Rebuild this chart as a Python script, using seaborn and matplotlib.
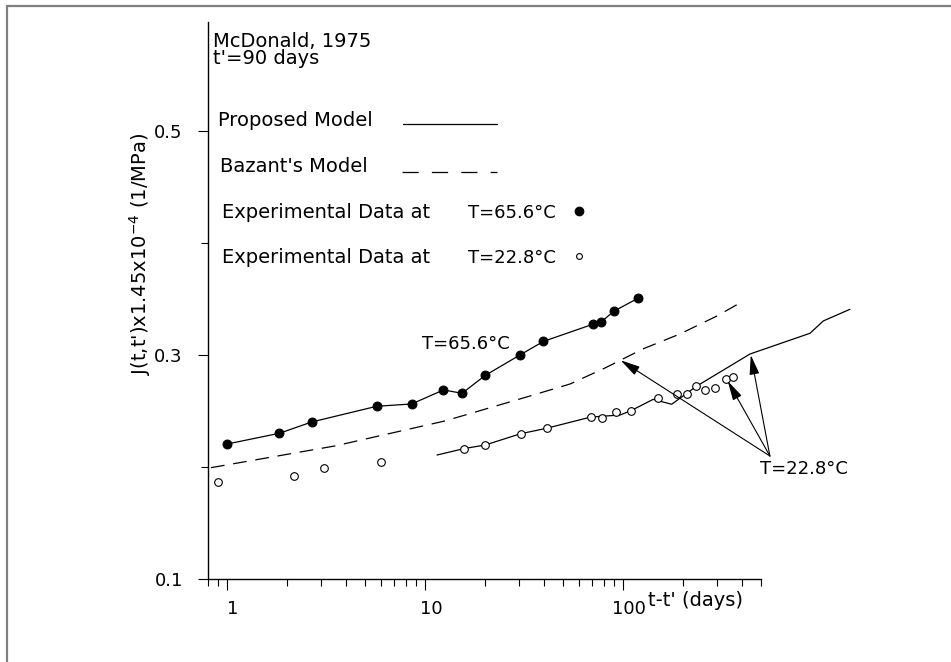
import matplotlib
matplotlib.use("Agg")
import matplotlib.pyplot as plt
import matplotlib.transforms as mtransforms
from matplotlib.lines import Line2D
from matplotlib.ticker import FixedLocator, FixedFormatter, NullFormatter
import seaborn as sns

# Values: t-t' (days) and J(t,t') x1.45x10^-4 (1/MPa)
hot_t = [1.0, 1.84, 2.68, 5.70, 8.57, 12.4, 15.4, 20.1, 30.3, 39.6, 70.3, 77.1, 90.3, 119]
hot_j = [0.2205, 0.2301, 0.2402, 0.2542, 0.2563, 0.2688, 0.2658, 0.2817, 0.3002, 0.3121,
         0.3274, 0.3292, 0.3393, 0.3506]

cold_t = [0.90, 2.19, 3.09, 5.98, 15.8, 20.1, 30.4, 41.2, 68.7, 78.6, 91.8, 110, 150,
          188, 210, 234, 261, 291, 331, 358]
cold_j = [0.1869, 0.1920, 0.1994, 0.2047, 0.2163, 0.2196, 0.2297, 0.2348, 0.2446, 0.2440,
          0.2494, 0.2503, 0.2613, 0.2649, 0.2649, 0.2723, 0.2685, 0.2705, 0.2788, 0.2806]

model_cold_t = [11.5, 15.8, 20.1, 30.4, 41.2, 68.7, 96.6, 110, 142, 176, 236, 438, 880, 1027, 1400]
model_cold_j = [0.2107, 0.2165, 0.2196, 0.2297, 0.2346, 0.2446, 0.2464, 0.2504, 0.2604,
                0.2560, 0.2723, 0.3009, 0.3194, 0.3304, 0.3408]

bazant_t = [0.83, 3.51, 12.6, 33.9, 54.0, 81.1, 126, 194, 298, 381]
bazant_j = [0.1994, 0.2188, 0.2411, 0.2634, 0.2741, 0.2884, 0.3054, 0.3188, 0.3348, 0.3455]

x_major = [1, 10, 100]
x_major_labels = ["1", "10", "100"]
x_minor = [0.8, 0.9, 2, 3, 4, 5, 6, 7, 8, 9, 20, 30, 40, 50, 60, 70, 80, 90, 200, 300, 400, 500]
y_major = [0.1, 0.3, 0.5]
y_major_labels = ["0.1", "0.3", "0.5"]
y_minor = [0.2, 0.4]

# arrows pointing at the 22.8 C curves
arrow_src = (552, 0.2098)
arrow_tips = [(97.3, 0.2953), (338, 0.2768), (442, 0.3000)]

sns.set_theme(style="ticks", rc={
    "text.color": "black",
    "axes.labelcolor": "black",
    "axes.edgecolor": "black",
    "xtick.color": "black",
    "ytick.color": "black",
})
plt.rcParams["font.family"] = ["DejaVu Sans"]
plt.rcParams["mathtext.fontset"] = "dejavusans"

W, H = 951, 662
fig = plt.figure(figsize=(W / 100, H / 100), dpi=100)


def fx(x):
    return x / W


def fy(y):
    return 1 - y / H


ax = fig.add_axes([fx(207.8), fy(579), (761.4 - 207.8) / W, (579 - 19) / H])

# experimental data + proposed model at 65.6 C
sns.lineplot(x=hot_t, y=hot_j, ax=ax, color="black", lw=0.9, marker="o", ms=6.4,
             mec="black", mfc="black", estimator=None, sort=False)
# proposed model at 22.8 C
sns.lineplot(x=model_cold_t, y=model_cold_j, ax=ax, color="black", lw=0.9,
             estimator=None, sort=False, clip_on=False)
# Bazant's model
sns.lineplot(x=bazant_t, y=bazant_j, ax=ax, color="black", lw=0.9,
             linestyle=(0, (11, 7)), estimator=None, sort=False)
# experimental data at 22.8 C
sns.lineplot(x=cold_t, y=cold_j, ax=ax, color="black", linestyle="", marker="o", ms=5.5,
             mec="black", mfc="white", mew=0.8, estimator=None, sort=False)

for tip in arrow_tips:
    ax.annotate("", xy=tip, xytext=arrow_src,
                arrowprops=dict(arrowstyle="-|>,head_length=0.8,head_width=0.2",
                                mutation_scale=15, lw=0.8, color="black",
                                shrinkA=0, shrinkB=0))

ax.text(9.62, 0.3096, "T=65.6°C", fontsize=13, va="center", ha="left")
ax.text(492, 0.198, "T=22.8°C", fontsize=13, va="center", ha="left", clip_on=False)

ax.set_xscale("log")
ax.set_xlim(0.8, 500)
ax.set_ylim(0.1, 0.6)
ax.xaxis.set_major_locator(FixedLocator(x_major))
ax.xaxis.set_major_formatter(FixedFormatter(x_major_labels))
ax.xaxis.set_minor_locator(FixedLocator(x_minor))
ax.xaxis.set_minor_formatter(NullFormatter())
ax.yaxis.set_major_locator(FixedLocator(y_major))
ax.yaxis.set_major_formatter(FixedFormatter(y_major_labels))
ax.yaxis.set_minor_locator(FixedLocator(y_minor))
ax.yaxis.set_minor_formatter(NullFormatter())

ax.tick_params(axis="x", which="major", direction="out", bottom=True, length=8, width=0.8,
               labelsize=13, pad=7)
ax.tick_params(axis="x", which="minor", direction="out", bottom=True, length=5, width=0.8)
ax.tick_params(axis="y", which="major", direction="out", left=True, length=7, width=0.8,
               labelsize=13, pad=11)
ax.tick_params(axis="y", which="minor", direction="out", left=True, length=5, width=0.8)
sns.despine(ax=ax)
for side in ["left", "bottom"]:
    ax.spines[side].set_linewidth(1.0)
    ax.spines[side].set_color("black")
ax.spines["left"].set_bounds(0.1, 0.5975)

shift = mtransforms.ScaledTranslation(6 / 100, 0, fig.dpi_scale_trans)
for lab in ax.get_xticklabels():
    lab.set_transform(lab.get_transform() + shift)

ax.set_xlabel("")
ax.set_ylabel("J(t,t')x1.45x10$^{-4}$ (1/MPa)", fontsize=14)
ax.yaxis.set_label_coords(-0.099, 0.58)
fig.text(fx(648), fy(600), "t-t' (days)", fontsize=14, va="center", ha="left")

# legend block drawn in figure pixels
fig.text(fx(213), fy(46.7), "McDonald, 1975", fontsize=14, va="baseline")
fig.text(fx(213), fy(64), "t'=90 days", fontsize=14, va="baseline")
fig.text(fx(218.3), fy(125.7), "Proposed Model", fontsize=14, va="baseline")
fig.add_artist(Line2D([fx(403.3), fx(496.7)], [fy(124), fy(124)], color="black", lw=0.9,
                      transform=fig.transFigure))
fig.text(fx(220), fy(172.3), "Bazant's Model", fontsize=14, va="baseline")
fig.add_artist(Line2D([fx(401.7), fx(496.7)], [fy(171.7), fy(171.7)], color="black", lw=0.9,
                      linestyle=(0, (13, 10.5)), transform=fig.transFigure))
fig.text(fx(221.7), fy(218.3), "Experimental Data at", fontsize=14, va="baseline")
fig.text(fx(468.3), fy(218.3), "T=65.6°C", fontsize=13, va="baseline")
fig.add_artist(Line2D([fx(579.3)], [fy(210.7)], marker="o", ms=6, color="black",
                      linestyle="", transform=fig.transFigure))
fig.text(fx(221.7), fy(263.3), "Experimental Data at", fontsize=14, va="baseline")
fig.text(fx(468.3), fy(263.3), "T=22.8°C", fontsize=13, va="baseline")
fig.add_artist(Line2D([fx(579.3)], [fy(255.7)], marker="o", ms=4.2, mfc="white", mec="black",
                      mew=0.8, linestyle="", transform=fig.transFigure))

# grey page frame (top and left edges)
fig.add_artist(Line2D([fx(6.5), fx(951)], [fy(5.7), fy(5.7)], color="#808080", lw=1.6,
                      transform=fig.transFigure))
fig.add_artist(Line2D([fx(6.5), fx(6.5)], [fy(5.7), fy(662)], color="#808080", lw=1.6,
                      transform=fig.transFigure))

fig.savefig("out.png", dpi=100)
